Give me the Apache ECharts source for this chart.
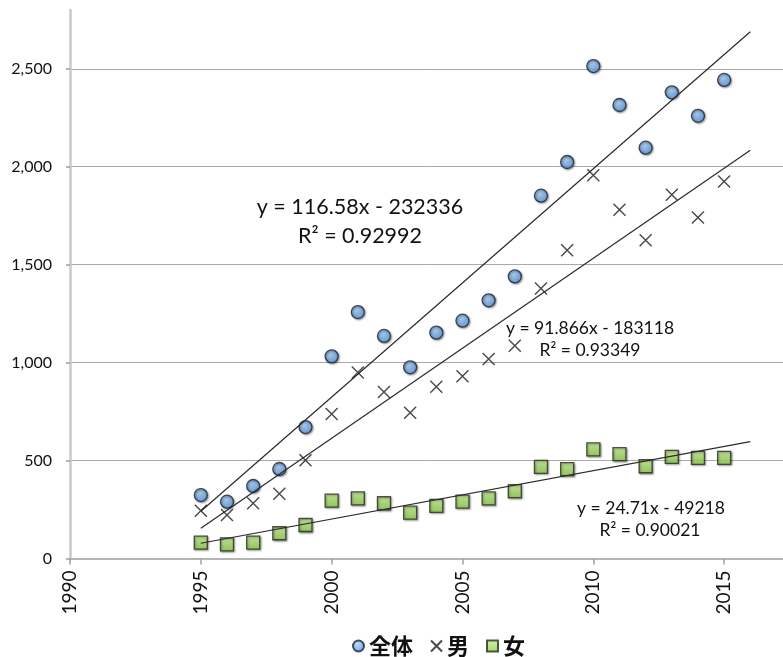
<!DOCTYPE html>
<html><head><meta charset="utf-8">
<script src="https://cdn.jsdelivr.net/npm/echarts@6/dist/echarts.min.js"></script>
<style>html,body{margin:0;padding:0;background:#fff}#c{width:783px;height:657px}</style>
</head><body><div id="c"></div>
<script>
// ---- data ----
const years = [1995,1996,1997,1998,1999,2000,2001,2002,2003,2004,2005,2006,2007,2008,2009,2010,2011,2012,2013,2014,2015];
const totalValues  = [324,290,370,457,671,1032,1258,1136,976,1153,1214,1318,1440,1852,2024,2514,2315,2097,2380,2260,2443];
const maleValues   = [244,222,282,331,501,738,949,850,744,877,930,1018,1086,1378,1574,1957,1780,1625,1857,1741,1924];
const femaleValues = [81,72,81,129,171,295,307,282,234,269,290,307,344,468,456,557,533,471,519,514,514];
const seriesNames = ['全体','男','女'];
// trendline endpoints (from the chart's fitted equations, 1995 to 2016)
const trendYears = [1995,2016];
const totalTrend  = [241,2689];
const maleTrend   = [155,2084];
const femaleTrend = [78,597];
const xTickValues = [1990,1995,2000,2005,2010,2015];
const yTickValues = [0,500,1000,1500,2000,2500];
const eqTotal  = ['y = 116.58x - 232336','R² = 0.92992'];
const eqMale   = ['y = 91.866x - 183118','R² = 0.93349'];
const eqFemale = ['y = 24.71x - 49218','R² = 0.90021'];

const pairs = (xs, ys) => xs.map((x, i) => [x, ys[i]]);
const FONT = 'Lato, "Open Sans", sans-serif';

const shadow = {shadowBlur: 2, shadowColor: 'rgba(0,0,0,0.45)', shadowOffsetX: 1, shadowOffsetY: 1};
const blueFill = new echarts.graphic.RadialGradient(0.4, 0.35, 0.7, [
  {offset: 0, color: '#a9d0f7'}, {offset: 1, color: '#4f8fdc'}]);
const greenFill = new echarts.graphic.LinearGradient(0, 0, 0, 1, [
  {offset: 0, color: '#c4ee92'}, {offset: 1, color: '#8fcc4c'}]);

function trend(name, ys) {
  return {
    name: name + '_trend', type: 'line', data: pairs(trendYears, ys),
    symbol: 'none', silent: true, z: 5,
    lineStyle: {color: '#2a2a2a', width: 1.2}
  };
}

function eqText(str, x, y, size) {
  return {type: 'text', x: x, y: y, z: 20,
    style: {text: str, fill: '#111', font: size + 'px ' + FONT,
      align: 'center', verticalAlign: 'middle', textAlign: 'center', textVerticalAlign: 'middle'}};
}

const chart = echarts.init(document.getElementById('c'), null, {renderer: 'canvas'});
chart.setOption({
  animation: false,
  backgroundColor: '#fff',
  grid: {left: 70, right: 0, top: 10, bottom: 98.5, containLabel: false},
  legend: {
    data: seriesNames, left: 347, top: 630,
    itemWidth: 11, itemHeight: 11, itemGap: 17,
    textStyle: {fontSize: 22, fontWeight: 'bold', color: '#111', fontFamily: '"Noto Sans CJK JP", sans-serif'}
  },
  xAxis: {
    type: 'value', min: 1990, max: 2017.25, interval: 5,
    axisLine: {show: true, lineStyle: {color: '#b5b5b5', width: 2}},
    axisTick: {show: true, length: 6, lineStyle: {color: '#a0a0a0', width: 1.5}, customValues: xTickValues},
    axisLabel: {rotate: 90, margin: 12, fontSize: 19, color: '#111', fontFamily: FONT,
      customValues: xTickValues,
      formatter: v => (v % 5 === 0 ? String(v) : '')},
    splitLine: {show: false}
  },
  yAxis: {
    type: 'value', min: 0, max: 2800, interval: 500,
    axisLine: {show: true, lineStyle: {color: '#c8c8c8', width: 2.5}},
    axisTick: {show: true, length: 4, lineStyle: {color: '#a0a0a0', width: 1.5}, customValues: yTickValues},
    axisLabel: {margin: 18, fontSize: 16, color: '#111', fontFamily: FONT,
      customValues: yTickValues,
      formatter: v => (v % 500 === 0 ? v.toLocaleString('en-US') : '')},
    splitLine: {show: true, lineStyle: {color: '#a9a9a9', width: 1}}
  },
  series: [
    {name: seriesNames[0], type: 'scatter', data: pairs(years, totalValues),
     symbol: 'circle', symbolSize: 13, z: 3,
     itemStyle: Object.assign({color: blueFill, borderColor: '#1c2530', borderWidth: 1.3}, shadow)},
    {name: seriesNames[1], type: 'scatter', data: pairs(years, maleValues),
     symbol: 'path://M0,0L10,10M10,0L0,10', symbolSize: 12, z: 3,
     itemStyle: {color: 'rgba(0,0,0,0)', borderColor: '#1a1a1a', borderWidth: 1.4}},
    {name: seriesNames[2], type: 'scatter', data: pairs(years, femaleValues),
     symbol: 'rect', symbolSize: 13, z: 3,
     itemStyle: Object.assign({color: greenFill, borderColor: '#24301a', borderWidth: 1.3}, shadow)},
    trend(seriesNames[0], totalTrend),
    trend(seriesNames[1], maleTrend),
    trend(seriesNames[2], femaleTrend)
  ],
  graphic: [
    eqText(eqTotal[0], 360, 207, 21.5),
    eqText(eqTotal[1], 360, 236, 21.5),
    eqText(eqMale[0], 590, 328, 17.5),
    eqText(eqMale[1], 590, 350, 17.5),
    eqText(eqFemale[0], 651, 508, 17.5),
    eqText(eqFemale[1], 650, 530, 17.5)
  ]
});
</script>
</body></html>
